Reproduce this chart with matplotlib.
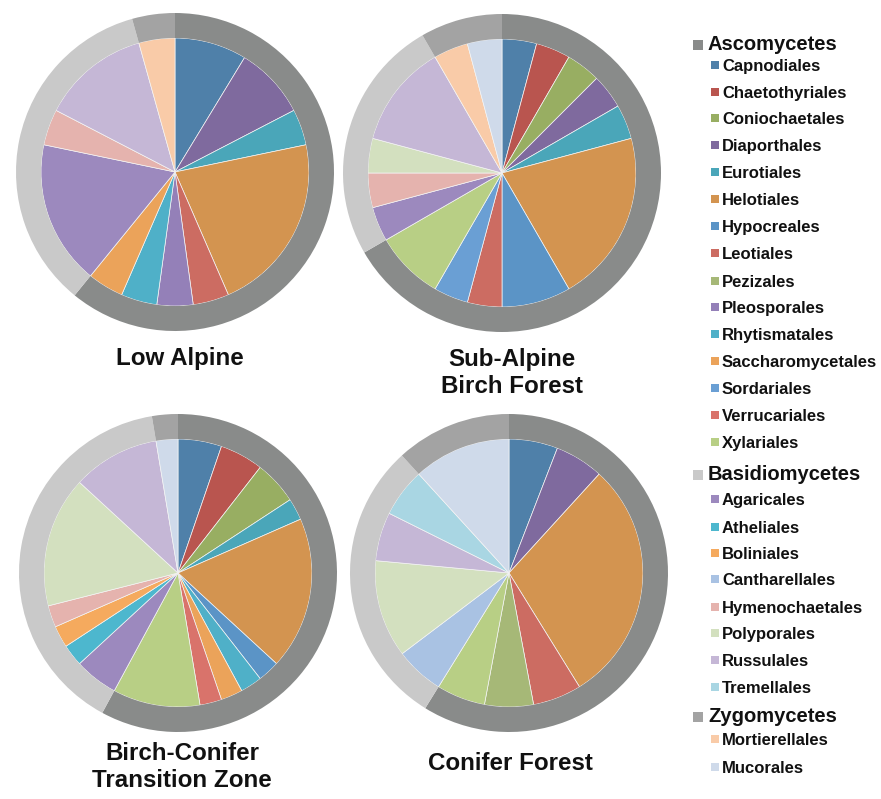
import matplotlib
matplotlib.use("Agg")
import matplotlib.pyplot as plt
from matplotlib.patches import Rectangle

# ---------------- data ----------------
asco_orders = ["Capnodiales", "Chaetothyriales", "Coniochaetales", "Diaporthales",
               "Eurotiales", "Helotiales", "Hypocreales", "Leotiales", "Pezizales",
               "Pleosporales", "Rhytismatales", "Saccharomycetales", "Sordariales",
               "Verrucariales", "Xylariales"]
basidio_orders = ["Agaricales", "Atheliales", "Boliniales", "Cantharellales",
                  "Hymenochaetales", "Polyporales", "Russulales", "Tremellales"]
zygo_orders = ["Mortierellales", "Mucorales"]

groups = ["Ascomycetes", "Basidiomycetes", "Zygomycetes"]

sites = ["Low Alpine", "Sub-Alpine\nBirch Forest",
         "Birch-Conifer\nTransition Zone", "Conifer Forest"]

# counts per order (asco 15 | basidio 8 | zygo 2)
low_alpine = [2, 0, 0, 2, 1, 5, 0, 1, 0, 1, 1, 1, 0, 0, 0,
              4, 0, 0, 0, 1, 0, 3, 0,
              1, 0]
sub_alpine = [1, 1, 1, 1, 1, 5, 2, 1, 0, 0, 0, 0, 1, 0, 2,
              1, 0, 0, 0, 1, 1, 3, 0,
              1, 1]
birch_conifer = [2, 2, 2, 0, 1, 7, 1, 0, 0, 0, 1, 1, 0, 1, 4,
                 2, 1, 1, 0, 1, 6, 4, 0,
                 0, 1]
conifer = [1, 0, 0, 1, 0, 5, 0, 1, 1, 0, 0, 0, 0, 0, 1,
           0, 0, 0, 1, 0, 2, 1, 1,
           0, 2]

# ---------------- styles ----------------
asco_colors = ["#4F80A9", "#B9554F", "#98AE62", "#7F6A9E", "#4AA6B9", "#D39450",
               "#5B94C6", "#CC6C62", "#A6B877", "#9480B8", "#4FB0C8", "#EBA35A",
               "#6A9FD4", "#D9736B", "#B8CF85"]
basidio_colors = ["#9C89BE", "#4DB7CE", "#F5AA5E", "#A9C2E3", "#E5B3AE",
                  "#D3E0BF", "#C5B7D6", "#A9D6E3"]
zygo_colors = ["#F9CBA8", "#CFDAEA"]
group_colors = ["#898B8A", "#C9C9C9", "#A3A3A3"]

all_orders = asco_orders + basidio_orders + zygo_orders
all_colors = asco_colors + basidio_colors + zygo_colors
n_a, n_b = len(asco_orders), len(basidio_orders)

W, H = 881, 799
FONT = "Liberation Sans"

fig = plt.figure(figsize=(W / 100, H / 100), dpi=100)
ax = fig.add_axes([0, 0, 1, 1])

centers = [(175, 172), (502, 173), (178, 573), (509, 573)]
R_out, R_in = 159, 134
title_pos = [(180, 359), (512, 373), (182, 767), (510, 764)]

for counts, (cx, cy), name, (tx, ty) in zip(
        [low_alpine, sub_alpine, birch_conifer, conifer], centers, sites, title_pos):
    vals = [v for v in counts if v > 0]
    cols = [c for v, c in zip(counts, all_colors) if v > 0]
    ax.pie(vals, colors=cols, radius=R_in, center=(cx, H - cy), startangle=90,
           counterclock=False, frame=True,
           wedgeprops=dict(linewidth=0.5, edgecolor="#f4f4f4"))
    gsum = [sum(counts[:n_a]), sum(counts[n_a:n_a + n_b]), sum(counts[n_a + n_b:])]
    ax.pie(gsum, colors=group_colors, radius=R_out, center=(cx, H - cy),
           startangle=90, counterclock=False, frame=True,
           wedgeprops=dict(width=R_out - R_in, linewidth=0))
    ax.text(tx, H - ty, name, ha="center", va="center", fontsize=17.4,
            fontweight="bold", family=FONT, linespacing=1.22, color="#111111")

# ---------------- legend ----------------
header_y = [45, 475, 717]
item_y = [[65, 92, 118, 145, 172, 199, 226, 253, 281, 307, 334, 361, 388, 415, 442],
          [499, 527, 553, 579, 607, 633, 660, 687],
          [739, 767]]
group_items = [asco_orders, basidio_orders, zygo_orders]
group_item_colors = [asco_colors, basidio_colors, zygo_colors]

for g, hy, ys, items, icols, gc in zip(groups, header_y, item_y, group_items,
                                       group_item_colors, group_colors):
    ax.add_patch(Rectangle((693, H - hy - 5), 10, 10, color=gc, lw=0))
    ax.text(708, H - hy - 5.5, g, ha="left", va="baseline", fontsize=14.5,
            fontweight="bold", family=FONT, color="#111111")
    for lab, y, c in zip(items, ys, icols):
        ax.add_patch(Rectangle((711, H - y - 4), 8, 8, color=c, lw=0))
        ax.text(722, H - y - 6, lab, ha="left", va="baseline", fontsize=12,
                fontweight="bold", family=FONT, color="#111111")

ax.set_xlim(0, W)
ax.set_ylim(0, H)
ax.set_aspect("equal")
ax.axis("off")

fig.savefig("out.png", dpi=100, facecolor="white")
